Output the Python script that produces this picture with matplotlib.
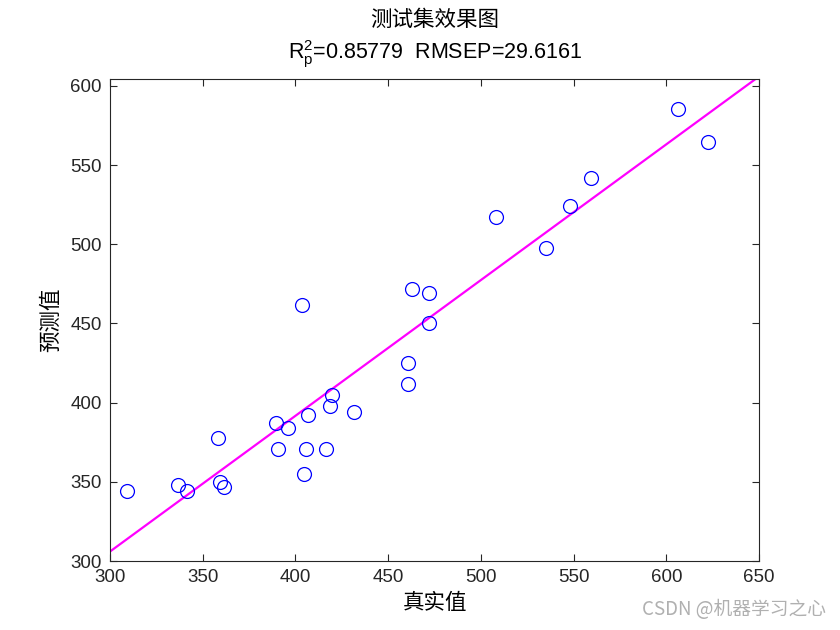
import matplotlib
matplotlib.use("Agg")
import matplotlib.pyplot as plt
import numpy as np

# data
true_vals = [309.2, 336.7, 341.5, 358.3, 359.3, 361.5, 389.5, 390.6, 396.0, 403.6,
             404.6, 405.7, 406.8, 416.5, 418.7, 419.7, 431.6, 460.7, 460.7, 462.9,
             472.0, 472.0, 508.2, 535.2, 548.1, 559.4, 606.4, 622.5]
pred_vals = [344.2, 348.0, 344.0, 378.0, 350.0, 347.0, 387.0, 371.0, 384.0, 461.6,
             355.0, 371.0, 392.0, 371.0, 398.0, 405.0, 394.0, 425.0, 412.0, 471.8,
             469.0, 450.0, 517.0, 497.8, 524.0, 541.7, 585.5, 564.6]
fit_x = [300, 650]
fit_y = [306.0, 606.0]
xticks = [300, 350, 400, 450, 500, 550, 600, 650]
yticks = [300, 350, 400, 450, 500, 550, 600]

plt.rcParams['font.family'] = ['Liberation Sans', 'Noto Sans CJK SC']
cjk = ['Noto Sans CJK SC', 'DejaVu Sans']

fig = plt.figure(figsize=(8.4, 6.3), dpi=100)
ax = fig.add_axes([0.131, 0.1095, 0.7726, 0.7651])

ax.plot(fit_x, fit_y, color='#ff00ff', lw=1.6, zorder=2)
ax.plot(true_vals, pred_vals, 'o', mfc='none', mec='#0000ff', ms=10, mew=0.9, zorder=3)

ax.set_xlim(300, 650)
ax.set_ylim(300, 604.4)
ax.set_xticks(xticks)
ax.set_yticks(yticks)
ax.tick_params(direction='in', top=True, right=True, length=5, width=0.8,
               labelsize=13.5, colors='#262626', pad=6)
for s in ax.spines.values():
    s.set_linewidth(0.8)
    s.set_color('#262626')

ax.set_xlabel('真实值', family=cjk, fontsize=15.5, labelpad=4)
ax.set_ylabel('预测值', family=cjk, fontsize=15.5, labelpad=6)

fig.text(0.5178, 0.969, '测试集效果图', family=cjk, fontsize=15.5, ha='center', va='center')
fig.text(0.5178, 0.914, r'$\mathregular{R_p^2}$=0.85779  RMSEP=29.6161',
         fontsize=15.5, ha='center', va='center')

fig.text(0.983, 0.032, 'CSDN @机器学习之心', family=cjk, fontsize=13.5,
         color='#b0b0b0', ha='right', va='center')

fig.savefig('out.png', dpi=100)
